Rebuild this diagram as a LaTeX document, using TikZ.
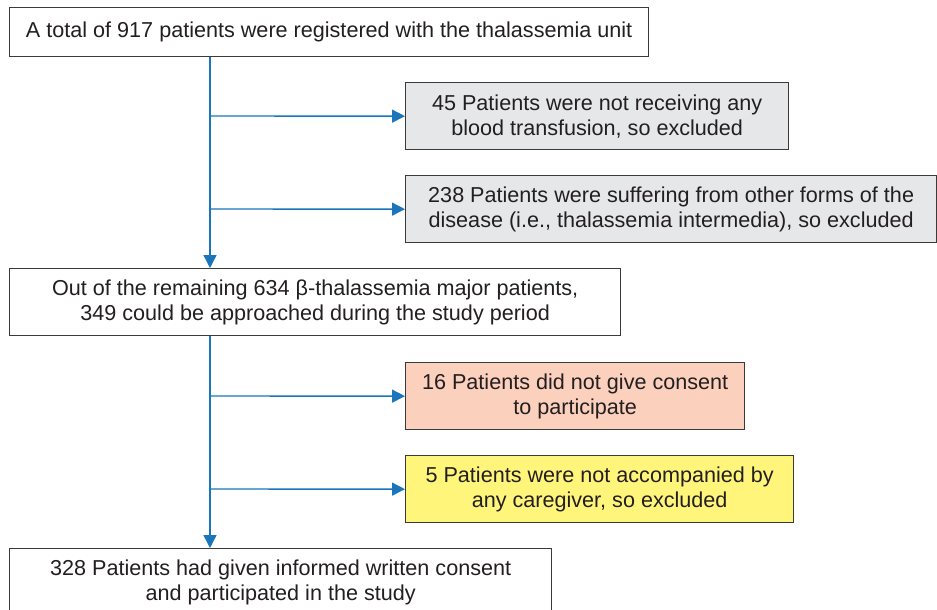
\documentclass[tikz,border=0pt]{standalone}
\usepackage{fontspec}
\setmainfont{Liberation Sans}
\usetikzlibrary{arrows.meta}
\definecolor{flowblue}{HTML}{1A75BB}
\definecolor{boxgray}{HTML}{E6E7E9}
\definecolor{boxsalmon}{HTML}{FBD0BD}
\definecolor{boxyellow}{HTML}{FFF57A}
\definecolor{txt}{HTML}{231F20}
\definecolor{edge}{HTML}{3A3A3A}
\begin{document}
\begin{tikzpicture}[x=1pt,y=-1pt,
  fbox/.style={draw=edge, line width=1.3pt, anchor=north west, inner sep=0pt,
    align=center, text=txt, font=\fontsize{21.6}{25}\selectfont},
  flow/.style={draw=flowblue, line width=1.4pt},
  flowarrow/.style={flow, -{Triangle[length=13pt,width=13pt]}}
]
\useasboundingbox (0,0) rectangle (937,610);
\fill[white] (0,0) rectangle (937,610);

\node[fbox, minimum width=639pt, minimum height=49pt] (b1) at (9,7)
  {A total of 917 patients were registered with the thalassemia unit};
\node[fbox, fill=boxgray, minimum width=383pt, minimum height=67pt] (b2) at (405,82)
  {45 Patients were not receiving any\\blood transfusion, so excluded};
\node[fbox, fill=boxgray, minimum width=531pt, minimum height=67pt] (b3) at (405,175)
  {238 Patients were suffering from other forms of the\\disease (i.e., thalassemia intermedia), so excluded};
\node[fbox, minimum width=611pt, minimum height=67pt] (b4) at (9,268)
  {Out of the remaining 634 β-thalassemia major patients,\\349 could be approached during the study period};
\node[fbox, fill=boxsalmon, minimum width=339pt, minimum height=67pt] (b5) at (405,362)
  {16 Patients did not give consent\\to participate};
\node[fbox, fill=boxyellow, minimum width=388pt, minimum height=67pt] (b6) at (405,455)
  {5 Patients were not accompanied by\\any caregiver, so excluded};
\node[fbox, minimum width=542pt, minimum height=67pt] (b7) at (9,548)
  {328 Patients had given informed written consent\\and participated in the study};

\coordinate (t1) at (210,116);
\coordinate (t2) at (210,209);
\coordinate (t3) at (210,396);
\coordinate (t4) at (210,489);

\draw[flowarrow] (b1.south -| t1) -- (b4.north -| t1);
\draw[flowarrow] (t1) -- (b2.west);
\draw[flowarrow] (t2) -- (b3.west);
\draw[flowarrow] (b4.south -| t3) -- (b7.north -| t3);
\draw[flowarrow] (t3) -- (b5.west);
\draw[flowarrow] (t4) -- (b6.west);
\end{tikzpicture}
\end{document}
